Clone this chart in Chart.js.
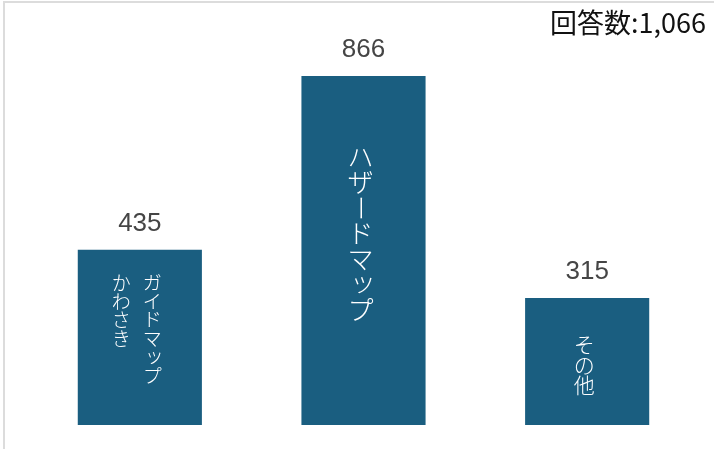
<!DOCTYPE html>
<html>
<head>
<meta charset="utf-8">
<script src="https://cdn.jsdelivr.net/npm/chart.js@4"></script>
<style>
  html, body { margin: 0; padding: 0; background: #fff; }
  #wrap {
    position: relative;
    width: 714px;
    height: 449px;
    overflow: hidden;
  }
  #frame {
    position: absolute;
    left: 3px;
    top: 1px;
    width: 760px;
    height: 500px;
    border-left: 2px solid #dcdcdc;
    border-top: 2px solid #dcdcdc;
    pointer-events: none;
  }
</style>
</head>
<body>
<div id="wrap">
  <div id="frame"></div>
  <canvas id="chart" width="714" height="449"></canvas>
</div>
<script>
// ===============================
// Data
// ===============================
const categories = ['ガイドマップかわさき', 'ハザードマップ', 'その他'];
// vertical text columns drawn inside each bar (right column first)
const barTextColumns = [['ガイドマップ', 'かわさき'], ['ハザードマップ'], ['その他']];
const counts = [435, 866, 315];
const totalLabel = '回答数:1,066';

const barColor = '#1a5e80';

// draws one column of vertical Japanese text
function drawVerticalColumn(ctx, text, x, y, size, step) {
  const smallKana = 'ッャュョァィゥェォっゃゅょ';
  [...text].forEach((ch, i) => {
    const cy = y + step * i + step / 2;
    ctx.save();
    if (ch === 'ー') {
      ctx.translate(x, cy);
      ctx.rotate(Math.PI / 2);
      ctx.fillText(ch, 0, 0);
    } else if (smallKana.includes(ch)) {
      ctx.fillText(ch, x + size * 0.1, cy - size * 0.1);
    } else {
      ctx.fillText(ch, x, cy);
    }
    ctx.restore();
  });
}

const barTextPlugin = {
  id: 'barText',
  afterDatasetsDraw(chart) {
    const ctx = chart.ctx;
    const meta = chart.getDatasetMeta(0);
    const sizes = [19, 26, 21];
    const shifts = [-8, -17, 3];
    ctx.save();
    meta.data.forEach((bar, i) => {
      // value above the bar
      ctx.fillStyle = '#454545';
      ctx.font = '26px "Liberation Sans", Arial, sans-serif';
      ctx.textAlign = 'center';
      ctx.textBaseline = 'alphabetic';
      ctx.fillText(counts[i], bar.x, bar.y - 19);

      // vertical label inside the bar
      const cols = barTextColumns[i];
      const size = sizes[i];
      const step = size * 0.98;
      const longest = Math.max(...cols.map(c => [...c].length));
      const top = (bar.y + bar.base) / 2 - longest * step / 2 + shifts[i];
      const colGap = 31;
      ctx.fillStyle = '#ffffff';
      ctx.font = '300 ' + size + 'px "Noto Sans CJK JP", sans-serif';
      ctx.textBaseline = 'middle';
      cols.forEach((col, c) => {
        const x = bar.x - 3 + ((cols.length - 1) / 2 - c) * colGap;
        drawVerticalColumn(ctx, col, x, top, size, step);
      });
    });

    // respondent count, top right
    ctx.fillStyle = '#111111';
    ctx.font = '27px "Noto Sans CJK JP", sans-serif';
    ctx.textAlign = 'right';
    ctx.textBaseline = 'alphabetic';
    ctx.fillText(totalLabel, 706, 33);
    ctx.restore();
  }
};

const chart = new Chart(document.getElementById('chart'), {
  type: 'bar',
  data: {
    labels: categories,
    datasets: [{
      data: counts,
      backgroundColor: barColor,
      borderWidth: 0,
      barPercentage: 0.555,
      categoryPercentage: 1
    }]
  },
  options: {
    responsive: false,
    animation: false,
    layout: {
      padding: { left: 28, right: 15, top: 22, bottom: 24 }
    },
    plugins: {
      legend: { display: false },
      tooltip: { enabled: false }
    },
    scales: {
      x: { display: false },
      y: { display: false, min: 0, max: 1000 }
    }
  },
  plugins: [barTextPlugin]
});
</script>
</body>
</html>
